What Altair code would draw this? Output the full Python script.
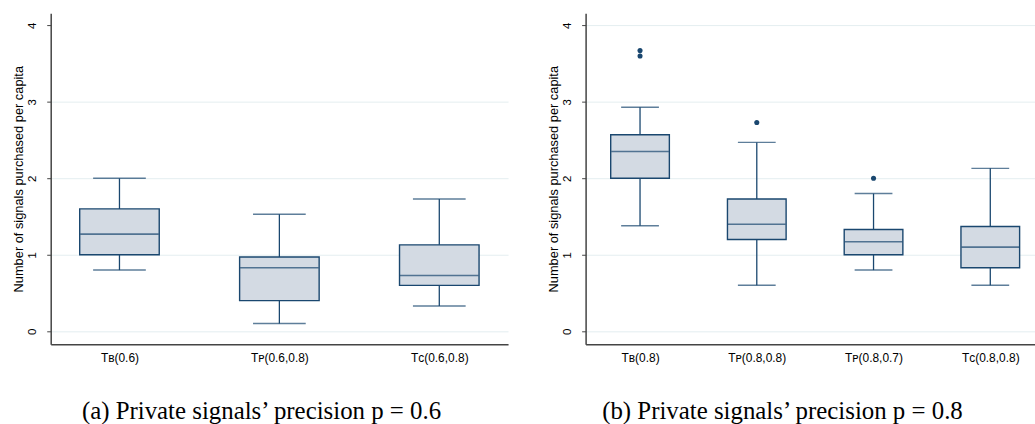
import altair as alt
import pandas as pd

# Panel (a): private signals' precision p = 0.6
cats_a = ["Tʙ(0.6)", "Tᴘ(0.6,0.8)", "Tᴄ(0.6,0.8)"]
lo_a = [0.80, 0.10, 0.33]
q1_a = [1.00, 0.40, 0.60]
med_a = [1.27, 0.83, 0.73]
q3_a = [1.60, 0.97, 1.13]
hi_a = [2.00, 1.53, 1.73]
out_cat_a = []
out_val_a = []

# Panel (b): private signals' precision p = 0.8
cats_b = ["Tʙ(0.8)", "Tᴘ(0.8,0.8)", "Tᴘ(0.8,0.7)", "Tᴄ(0.8,0.8)"]
lo_b = [1.38, 0.60, 0.80, 0.60]
q1_b = [2.00, 1.20, 1.00, 0.83]
med_b = [2.35, 1.40, 1.17, 1.10]
q3_b = [2.57, 1.73, 1.33, 1.37]
hi_b = [2.93, 2.47, 1.80, 2.13]
out_cat_b = ["Tʙ(0.8)", "Tʙ(0.8)", "Tᴘ(0.8,0.8)", "Tᴘ(0.8,0.7)"]
out_val_b = [3.67, 3.60, 2.73, 2.00]

y_ticks = [0, 1, 2, 3, 4]

NAVY = "#1a476f"
FILL = "#d3dae3"
AXIS = "#444444"
GRID = "#e4eef0"
SANS = "Liberation Sans"
SERIF = "Liberation Serif"


def panel(cats, lo, q1, med, q3, hi, oc, ov, width, box_w, cap_w,
          pad, align, caption, cap_dx, grid_top):
    df = pd.DataFrame(dict(cat=cats, lo=lo, q1=q1, med=med, q3=q3, hi=hi))
    x = alt.X(
        "cat:N", sort=cats, title=None,
        scale=alt.Scale(type="point", padding=pad, align=align),
        axis=alt.Axis(labelAngle=0, ticks=False, domain=True,
                      domainColor=AXIS, domainWidth=1.5, labelPadding=8,
                      labelFont=SANS, labelFontSize=12, labelColor="black"),
    )
    yscale = alt.Scale(domain=[-0.17, 4.16], nice=False, zero=False)
    grid_color = GRID if grid_top else {
        "condition": {"test": "datum.value === 4", "value": "transparent"},
        "value": GRID,
    }
    y_axis = alt.Axis(
        values=y_ticks, format="d", labelAngle=270, labelAlign="center",
        labelBaseline="bottom", labelPadding=9, tickSize=4,
        tickColor=AXIS, domainColor=AXIS, domainWidth=1.5,
        grid=True, gridColor=grid_color, gridWidth=1,
        labelFont=SANS, labelFontSize=11.5, labelColor="black",
        title="Number of signals purchased per capita",
        titleFont=SANS, titleFontSize=12.9, titleFontWeight="normal",
        titleColor="black", titlePadding=1,
    )
    base = alt.Chart(df)
    whisker = base.mark_rule(color=NAVY, strokeWidth=1.3).encode(
        x=x, y=alt.Y("lo:Q", scale=yscale, axis=y_axis), y2="hi:Q")
    box = base.mark_bar(size=box_w, fill=FILL, stroke=NAVY,
                        strokeWidth=1.4).encode(x=x, y="q1:Q", y2="q3:Q")
    median = base.mark_tick(size=box_w - 1, thickness=1.6,
                            color=NAVY).encode(x=x, y="med:Q")
    cap_lo = base.mark_tick(size=cap_w, thickness=1.5,
                            color=NAVY).encode(x=x, y="lo:Q")
    cap_hi = base.mark_tick(size=cap_w, thickness=1.5,
                            color=NAVY).encode(x=x, y="hi:Q")
    layers = [whisker, box, median, cap_lo, cap_hi]
    if oc:
        odf = pd.DataFrame(dict(cat=oc, val=ov))
        layers.append(
            alt.Chart(odf).mark_circle(size=26, color=NAVY, opacity=1)
            .encode(x=x, y="val:Q"))
    return alt.layer(*layers).properties(
        width=width, height=333,
        title=alt.TitleParams(
            text=caption, orient="bottom", anchor="middle", frame="group",
            font=SERIF, fontSize=25, fontWeight="normal", color="black",
            offset=36, dx=cap_dx),
    )


left = panel(cats_a, lo_a, q1_a, med_a, q3_a, hi_a, out_cat_a, out_val_a,
             width=460, box_w=80, cap_w=53, pad=0.43, align=0.5,
             caption="(a) Private signals’ precision p = 0.6",
             cap_dx=-18, grid_top=False)
right = panel(cats_b, lo_b, q1_b, med_b, q3_b, hi_b, out_cat_b, out_val_b,
              width=452, box_w=59, cap_w=38, pad=0.4246, align=0.549,
              caption="(b) Private signals’ precision p = 0.8",
              cap_dx=-28, grid_top=True)

chart = alt.hconcat(left, right, spacing=40).properties(
    padding={"left": 13, "top": 12, "right": 0, "bottom": 0},
    background="white",
).configure_view(stroke=None)

chart.save("out.html", embed_options={"renderer": "svg", "actions": False})
